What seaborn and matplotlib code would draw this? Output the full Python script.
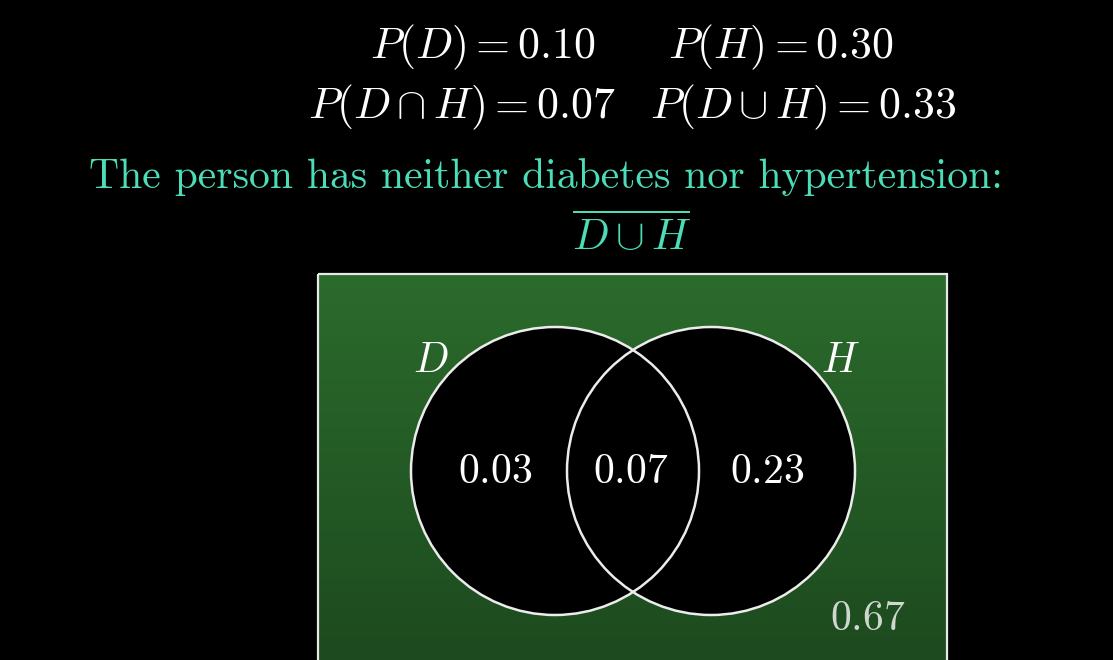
import numpy as np
import seaborn as sns
import matplotlib.pyplot as plt
from matplotlib.patches import Circle, Rectangle

# values
prob_names = ["D", "H", "D \\cap H", "D \\cup H"]
prob_values = [0.10, 0.30, 0.07, 0.33]
region_names = ["D only", "D and H", "H only", "neither"]
region_values = [0.03, 0.07, 0.23, 0.67]
set_labels = ["D", "H"]
caption = "The person has neither diabetes nor hypertension:"

sns.set_theme(style="dark")
plt.rcParams["mathtext.fontset"] = "cm"
plt.rcParams["font.family"] = ["DejaVu Serif"]

teal = "#4cdcb8"
fig = plt.figure(figsize=(11.13, 6.6), dpi=100, facecolor="black")
ax = fig.add_axes([0, 0, 1, 1])
ax.set_facecolor("black")
ax.set_xlim(0, 1113)
ax.set_ylim(660, 0)
ax.axis("off")

# header formulas
pos = [(483, 47), (781, 47), (462, 107), (803, 107)]
for (x, y), n, v in zip(pos, prob_names, prob_values):
    ax.text(x, y, r"$P(%s) = %.2f$" % (n, v), color="white", fontsize=31.5,
            ha="center", va="center")

ax.text(546, 177, caption, color=teal, fontsize=30, family="cmr10",
        ha="center", va="center")
ax.text(632, 236, r"$\overline{D \cup H}$", color=teal, fontsize=31,
        ha="center", va="center")

# green sample space with a soft vertical gradient
grad = np.linspace(0, 1, 200)[:, None]
top = np.array([0x2b, 0x6b, 0x2c]) / 255
bot = np.array([0x1d, 0x4a, 0x1f]) / 255
img = top + (bot - top) * grad[..., None]
ax.imshow(img, extent=(318, 947, 662, 274), aspect="auto", zorder=1)
ax.add_patch(Rectangle((318, 274), 629, 400, fill=False, ec="#e8e8e8", lw=1.6, zorder=2))

centers = [(555, 471), (711, 471)]
for c in centers:
    ax.add_patch(Circle(c, 144, fc="black", ec="none", zorder=3))
for c in centers:
    ax.add_patch(Circle(c, 144, fc="none", ec="#ececec", lw=1.8, zorder=4))

for (x, y), lab in zip([(431, 360), (840, 360)], set_labels):
    ax.text(x, y, r"$%s$" % lab, color="white", fontsize=30, ha="center",
            va="center", zorder=5)

rpos = [(495, 471), (631, 471), (767, 471), (868, 618)]
rcol = ["white", "white", "white", "#cfd8cf"]
for (x, y), v, c in zip(rpos, region_values, rcol):
    ax.text(x, y, r"$%.2f$" % v, color=c, fontsize=30, ha="center",
            va="center", zorder=5)

fig.savefig("out.png", dpi=100, facecolor="black")
